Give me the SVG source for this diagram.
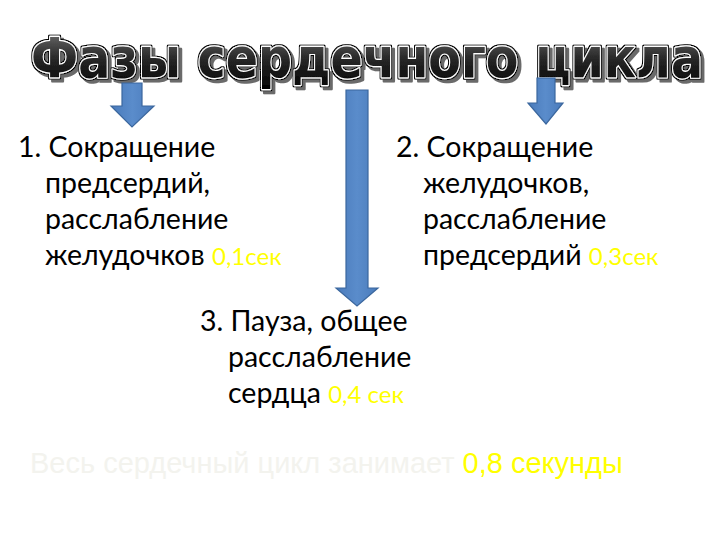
<svg xmlns="http://www.w3.org/2000/svg" width="720" height="540" viewBox="0 0 720 540">
<defs>
<linearGradient id="tg" x1="0" y1="0" x2="0" y2="1">
<stop offset="0" stop-color="#7a7a7a"/>
<stop offset="0.5" stop-color="#2a2a2a"/>
<stop offset="1" stop-color="#000"/>
</linearGradient>
<linearGradient id="ag" x1="0" y1="0" x2="1" y2="0">
<stop offset="0" stop-color="#4a7bbb"/>
<stop offset="0.5" stop-color="#5a8ccb"/>
<stop offset="1" stop-color="#4a7bbb"/>
</linearGradient>
<filter id="tf" x="-5%" y="-30%" width="110%" height="160%">
<feMorphology in="SourceAlpha" operator="dilate" radius="1.4" result="d"/>
<feOffset in="d" dx="3" dy="3" result="o"/>
<feFlood flood-color="#6a6a6a"/>
<feComposite in2="o" operator="in" result="sh"/>
<feMerge><feMergeNode in="sh"/><feMergeNode in="d"/><feMergeNode in="SourceGraphic"/></feMerge>
</filter>
</defs>
<style>
.title{font-family:"DejaVu Sans",Verdana,sans-serif;font-weight:bold;font-size:56px;fill:url(#tg);stroke:#fff;stroke-width:2.4;stroke-linejoin:round;paint-order:stroke;filter:url(#tf)}
.body{font-family:Lato,"Liberation Sans",sans-serif;font-size:28.5px;fill:#000}
.y{fill:#ffff00}
.arrow{fill:url(#ag);stroke:#3b679e;stroke-width:1.2}
.foot{font-family:"Liberation Sans",Arial,sans-serif;font-size:29px;fill:#f3f3ee}
</style>
<rect width="720" height="540" fill="#fff"/>
<g id="title">
<text class="title" x="31" y="77" textLength="672" lengthAdjust="spacingAndGlyphs">Фазы сердечного цикла</text>
</g>
<g id="connectors">
<path class="arrow" d="M122,83 H142 V106 H154 L132,127 L111,106 H122 Z"/>
<path class="arrow" d="M346,90 H368 V288 H378 L357,306 L336,288 H346 Z"/>
<path class="arrow" d="M537,78 H555 V103 H563 L546,124 L528,103 H537 Z"/>
</g>
<g id="phase1">
<text class="body" x="18" y="157">1. Сокращение</text>
<text class="body" x="45" y="193">предсердий,</text>
<text class="body" x="45" y="229">расслабление</text>
<text class="body" x="45" y="265">желудочков <tspan class="y" font-size="24">0,1сек</tspan></text>
</g>
<g id="phase2">
<text class="body" x="396" y="157">2. Сокращение</text>
<text class="body" x="423" y="193">желудочков,</text>
<text class="body" x="423" y="229">расслабление</text>
<text class="body" x="423" y="265">предсердий <tspan class="y" font-size="24">0,3сек</tspan></text>
</g>
<g id="phase3">
<text class="body" x="200" y="331">3. Пауза, общее</text>
<text class="body" x="228" y="367">расслабление</text>
<text class="body" x="228" y="403">сердца <tspan class="y" font-size="24">0,4 сек</tspan></text>
</g>
<g id="footer">
<text class="foot" x="30" y="473">Весь сердечный цикл занимает <tspan class="y">0,8 секунды</tspan></text>
</g>
</svg>
